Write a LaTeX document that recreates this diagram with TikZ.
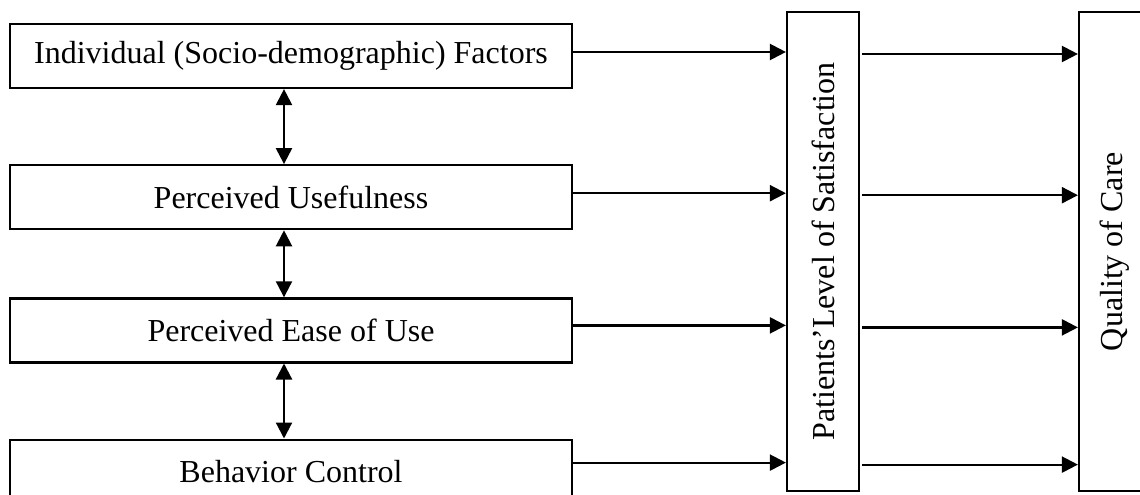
\documentclass[tikz,border=0pt]{standalone}
\usepackage{fontspec}
\setmainfont{Liberation Serif}
\usepackage{tikz}
\usetikzlibrary{positioning,arrows.meta}

\tikzset{
  factor/.style={draw, line width=2.2pt, minimum width=562pt, minimum height=64pt,
    inner sep=0pt, font=\fontsize{32}{38}\selectfont},
  outcome/.style={draw, line width=2.2pt, rotate=90, minimum width=479pt,
    minimum height=72pt, inner sep=0pt, font=\fontsize{32}{38}\selectfont},
  link/.style={-{Triangle[length=16pt,width=16pt]}, line width=2.2pt},
  both/.style={{Triangle[length=16pt,width=16pt]}-{Triangle[length=16pt,width=16pt]}, line width=2.2pt},
}

\begin{document}
\begin{tikzpicture}[x=1pt,y=-1pt]
\useasboundingbox (0,0) rectangle (1140,495);
\clip (0,0) rectangle (1140,495);

\node[factor]	(ind)	at (291,56)	{Individual (Socio-demographic) Factors};
\node[factor, below = 75pt of ind]	(use)	{Perceived Usefulness};
\node[factor, below = 67pt of use]	(ease)	{Perceived Ease of Use};
\node[factor, below = 75pt of ease]	(beh)	{Behavior Control};
\node[outcome]	(sat)	at (823,251.5)	{Patients’Level of Satisfaction};
\node[outcome]	(qual)	at (1115,251.5)	{Quality of Care};

% Connect nodes
\draw[both] ([xshift=-7pt]ind.south) -- ([xshift=-7pt]use.north);
\draw[both] ([xshift=-7pt]use.south) -- ([xshift=-7pt]ease.north);
\draw[both] ([xshift=-7pt]ease.south) -- ([xshift=-7pt]beh.north);

\foreach \src/\dy in {ind/4, use/4, ease/5, beh/9}{
  \draw[link] ([yshift=\dy pt]\src.east) -- ([yshift=\dy pt]\src.east -| sat.north);
  \draw[link] ([xshift=2pt, yshift=\dy pt - 2pt]\src.east -| sat.south)
    -- ([yshift=\dy pt - 2pt]\src.east -| qual.north);
}
\end{tikzpicture}
\end{document}
